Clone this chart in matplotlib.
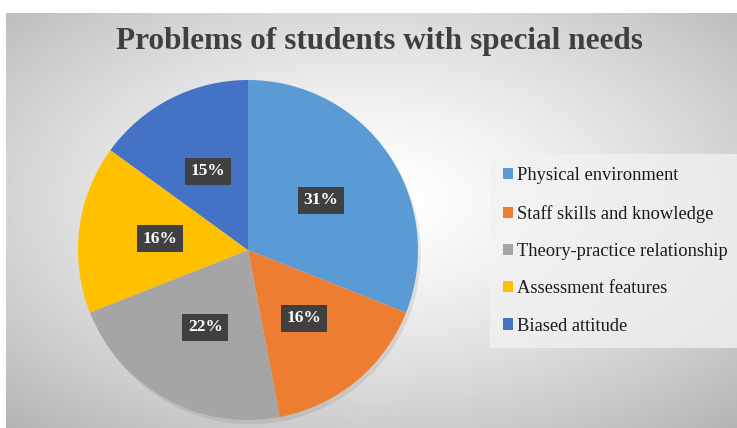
import numpy as np
import matplotlib.pyplot as plt
from matplotlib.patches import Shadow

categories = ['Physical environment', 'Staff skills and knowledge',
              'Theory-practice relationship', 'Assessment features', 'Biased attitude']
shares = [31, 16, 22, 16, 15]
colors = ['#5b9bd5', '#ed7d31', '#a5a5a5', '#ffc000', '#4472c4']
title = 'Problems of students with special needs'

W, H = 737, 428
fig = plt.figure(figsize=(W / 100, H / 100), dpi=100)
fig.patch.set_facecolor('white')

# radial gradient background
bg = fig.add_axes([6 / W, 0, 1 - 6 / W, 1 - 13 / H])
bg.set_axis_off()
yy, xx = np.mgrid[0:1:300j, 0:1:500j]
r = np.sqrt(((xx - 0.5) / 0.75) ** 2 + ((yy - 0.45) / 0.75) ** 2)
shade = np.clip(1.0 - 0.30 * r ** 1.4, 0, 1)
bg.imshow(shade, cmap='gray', vmin=0, vmax=1, aspect='auto', extent=[0, 1, 0, 1])

fig.text(379 / W, 1 - 41 / H, title, ha='center', va='center',
         fontsize=22.5, fontweight='bold', family='Liberation Serif', color='#3f3f3f')

# pie axes: center (248, 250), radius 170
R = 170
ax = fig.add_axes([(248 - R) / W, (H - 250 - R) / H, 2 * R / W, 2 * R / H])
wedges, texts, autotexts = ax.pie(
    shares, colors=colors, startangle=90, counterclock=False,
    autopct='%d%%', pctdistance=0.52, radius=1.0,
    wedgeprops=dict(linewidth=0),
    textprops=dict(color='white', fontsize=12.5, fontweight='bold', family='Liberation Serif'))
for w in wedges:
    s = Shadow(w, 0.012, -0.018, alpha=0.10)
    s.set_zorder(0)
    ax.add_patch(s)
for t in autotexts:
    t.set_bbox(dict(boxstyle='square,pad=0.32', facecolor='#404040', edgecolor='none'))
ax.set_xlim(-1, 1)
ax.set_ylim(-1, 1)
ax.set_aspect('equal')

leg = fig.legend(wedges, categories, loc='center left',
                 bbox_to_anchor=(490 / W, 1 - 251 / H),
                 frameon=True, fancybox=False, handlelength=0.55, handleheight=0.55,
                 handletextpad=0.2, labelspacing=1.1, borderpad=0.7, borderaxespad=0,
                 prop=dict(family='Liberation Serif', size=13.3))
leg.get_frame().set_facecolor('#f2f2f2')
leg.get_frame().set_alpha(0.75)
leg.get_frame().set_edgecolor('none')
for txt in leg.get_texts():
    txt.set_color('#1a1a1a')

plt.savefig('out.png', dpi=100)
